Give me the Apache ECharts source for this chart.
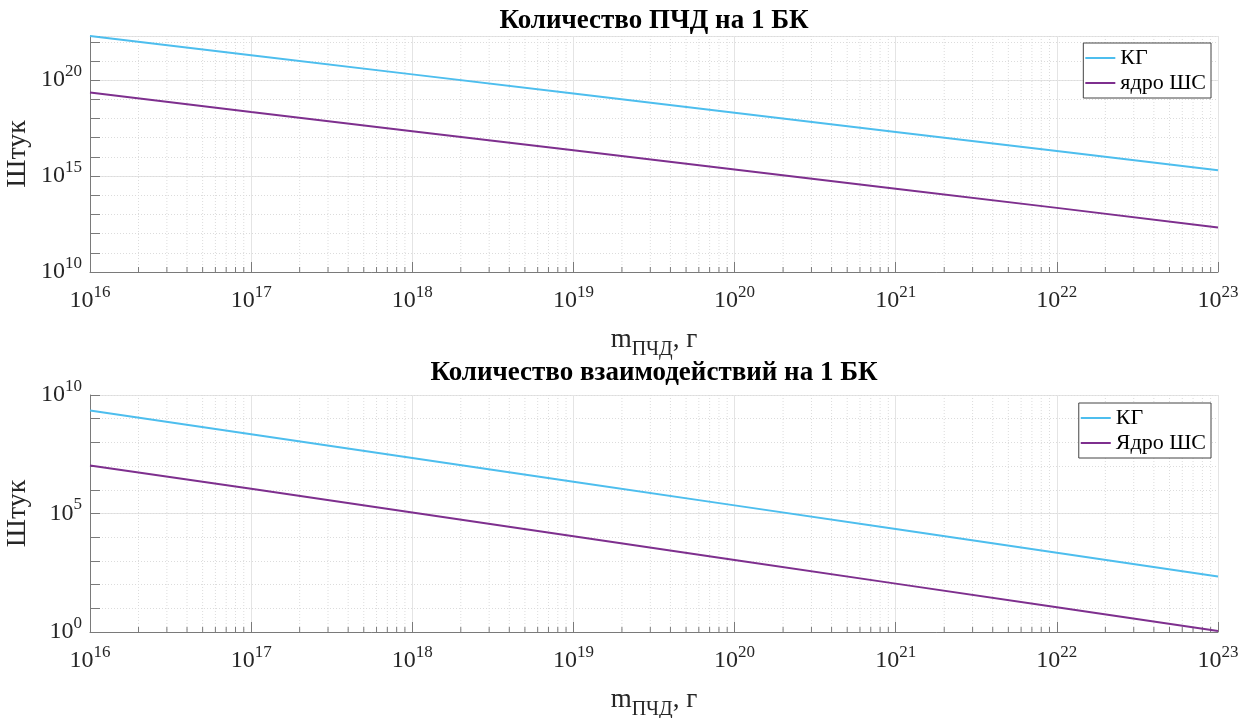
<!DOCTYPE html>
<html><head><meta charset="utf-8">
<script src="https://cdn.jsdelivr.net/npm/echarts@6/dist/echarts.min.js"></script>
<style>html,body{margin:0;padding:0;background:#fff}#c{width:1259px;height:718px}</style>
</head><body><div id="c"></div>
<script>
// ---- data ----
const massValues = [1e16, 1e17, 1e18, 1e19, 1e20, 1e21, 1e22, 1e23];
const pchdKG     = [2.0e22, 2.0e21, 2.0e20, 2.0e19, 2.0e18, 2.0e17, 2.0e16, 2.0e15];
const pchdCore   = [2.3e19, 2.2e18, 2.2e17, 2.2e16, 2.2e15, 2.2e14, 2.2e13, 2.1e12];
const interKG    = [2.2e9, 2.2e8, 2.2e7, 2.2e6, 2.2e5, 2.2e4, 2.2e3, 2.2e2];
const interCore  = [1.05e7, 1.1e6, 1.1e5, 1.1e4, 1.1e3, 1.1e2, 1.1e1, 1.1];
const namesTop    = ['КГ', 'ядро ШС'];
const namesBottom = ['КГ', 'Ядро ШС'];
const titles = ['Количество ПЧД на 1 БК', 'Количество взаимодействий на 1 БК'];
const yLabel = 'Штук';
const xLabelMain = 'm', xLabelSub = 'ПЧД', xLabelTail = ', г';
const minorFactors = [2, 3, 4, 5, 6, 7, 8, 9];
const yTopRange = [1e10, pchdKG[0]];
const yBottomRange = [1e0, 1e10];
const colors = ['#4DBEEE', '#7E2F8E'];

// ---- build ----
const FF = '"Liberation Serif", "Times New Roman", serif';
const AX = '#7a7a7a';
const TXT = '#262626';
const minorX = [];
for (let i = 0; i < massValues.length - 1; i++) minorFactors.forEach(f => minorX.push(f * massValues[i]));

function isExp(v, step) {
  const l = Math.log10(v), r = Math.round(l);
  return Math.abs(l - r) < 1e-6 && r % step === 0 ? r : null;
}
const powRich = {
  b: { fontSize: 24, fontFamily: FF, color: TXT },
  e: { fontSize: 17, fontFamily: FF, color: TXT, padding: [0, 0, 17, 0] }
};
function xAxisDef(gi) {
  return {
    gridIndex: gi, type: 'log', logBase: 10, min: massValues[0], max: massValues[massValues.length - 1], interval: 1,
    axisLine: { show: true, lineStyle: { color: AX, width: 1 } },
    axisTick: { show: true, inside: true, length: 10, lineStyle: { color: AX } },
    axisLabel: { margin: 12, showMinLabel: true, showMaxLabel: true, rich: powRich,
      formatter: v => { const e = isExp(v, 1); return e === null ? '' : '{b|10}{e|' + e + '}'; } },
    splitLine: { show: true, lineStyle: { color: '#e4e4e4', width: 1 } },
    name: '{m|' + xLabelMain + '}{s|' + xLabelSub + '}{m|' + xLabelTail + '}',
    nameLocation: 'middle', nameGap: 48,
    nameTextStyle: { rich: {
      m: { fontSize: 27, fontFamily: FF, color: TXT },
      s: { fontSize: 20, fontFamily: FF, color: TXT, padding: [20, 0, 0, 0] } } }
  };
}
function yMajor(gi, range) {
  return {
    gridIndex: gi, position: 'left', type: 'log', logBase: 10, min: range[0], max: range[1], interval: 5,
    axisLine: { show: true, lineStyle: { color: AX, width: 1 } },
    axisTick: { show: false },
    axisLabel: { margin: 8, rich: powRich,
      formatter: v => { const e = isExp(v, 5); return e === null ? '' : '{b|10}{e|' + e + '}'; } },
    splitLine: { show: true, lineStyle: { color: '#e4e4e4', width: 1 } },
    name: yLabel, nameLocation: 'middle', nameRotate: 90, nameGap: 58, nameMoveOverlap: false,
    nameTextStyle: { fontSize: 28, fontFamily: FF, color: TXT }
  };
}
function yMinor(gi, range) {
  return {
    gridIndex: gi, position: 'left', type: 'log', logBase: 10, min: range[0], max: range[1], interval: 1,
    axisLine: { show: false },
    axisTick: { show: true, inside: true, length: 10, lineStyle: { color: AX } },
    axisLabel: { show: false },
    splitLine: { show: true, lineStyle: { color: '#dcdcdc', width: 1, type: [1, 2] } }
  };
}
function minorSeries(gi, yIdx, yMin) {
  return {
    type: 'custom', xAxisIndex: gi, yAxisIndex: yIdx, z: 1, silent: true, clip: true,
    data: minorX.map(v => [v, yMin]),
    renderItem: (params, api) => {
      const x = api.coord([api.value(0), yMin])[0];
      const cs = params.coordSys;
      return { type: 'group', children: [
        { type: 'line', shape: { x1: x, y1: cs.y, x2: x, y2: cs.y + cs.height },
          style: { stroke: '#dcdcdc', lineWidth: 1, lineDash: [1, 2] } },
        { type: 'line', shape: { x1: x, y1: cs.y + cs.height, x2: x, y2: cs.y + cs.height - 5 },
          style: { stroke: AX, lineWidth: 1 } }
      ] };
    }
  };
}
function lineSeries(name, vals, gi, yIdx, color) {
  return { type: 'line', name, xAxisIndex: gi, yAxisIndex: yIdx, z: 3, showSymbol: false, symbol: 'none',
    data: massValues.map((m, i) => [m, vals[i]]), lineStyle: { color, width: 2 }, itemStyle: { color } };
}
function legendDef(names, top) {
  return { data: names, orient: 'vertical', right: 48, top, icon: 'rect', itemWidth: 30, itemHeight: 2,
    itemGap: 3, padding: [4, 5, 4, 2], borderColor: '#444', borderWidth: 1, backgroundColor: '#fff',
    textStyle: { fontSize: 22, fontFamily: FF, color: '#000', lineHeight: 22 } };
}

const option = {
  animation: false,
  backgroundColor: '#fff',
  title: [
    { text: titles[0], left: 649, top: 3, textAlign: 'center',
      textStyle: { fontSize: 27, fontWeight: 'bold', fontFamily: FF, color: '#000' } },
    { text: titles[1], left: 649, top: 355, textAlign: 'center',
      textStyle: { fontSize: 27, fontWeight: 'bold', fontFamily: FF, color: '#000' } }
  ],
  grid: [
    { left: 90, right: 41, top: 36, height: 236, containLabel: false, outerBoundsMode: 'none' },
    { left: 90, right: 41, top: 395, height: 237, containLabel: false, outerBoundsMode: 'none' }
  ],
  legend: [legendDef(namesTop, 43), legendDef(namesBottom, 403)],
  xAxis: [xAxisDef(0), xAxisDef(1)],
  yAxis: [yMajor(0, yTopRange), yMinor(0, yTopRange), yMajor(1, yBottomRange), yMinor(1, yBottomRange)],
  series: [
    minorSeries(0, 0, yTopRange[0]),
    minorSeries(1, 2, yBottomRange[0]),
    lineSeries(namesTop[0], pchdKG, 0, 0, colors[0]),
    lineSeries(namesTop[1], pchdCore, 0, 0, colors[1]),
    lineSeries(namesBottom[0], interKG, 1, 2, colors[0]),
    lineSeries(namesBottom[1], interCore, 1, 2, colors[1])
  ]
};
const chart = echarts.init(document.getElementById('c'), null, { renderer: 'canvas' });
chart.setOption(option);
</script></body></html>
